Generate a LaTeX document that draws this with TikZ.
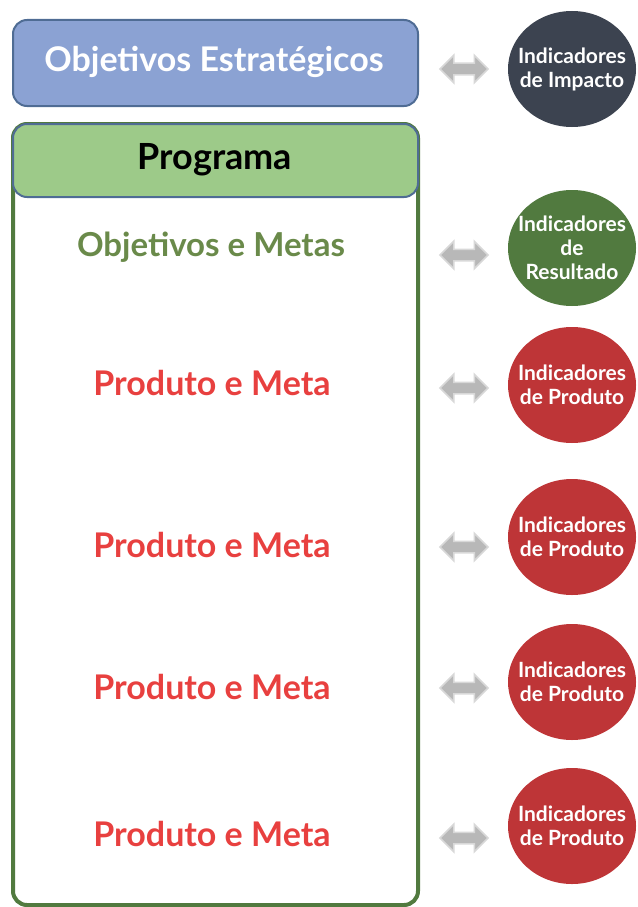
\documentclass[tikz,border=0pt]{standalone}
\usepackage{fontspec}
\setmainfont{Lato}
\usetikzlibrary{shapes.geometric,shapes.arrows}

\definecolor{boxblue}{HTML}{8BA2D3}
\definecolor{edgeblue}{HTML}{4F6C94}
\definecolor{boxgreen}{HTML}{9DCA89}
\definecolor{darkgreen}{HTML}{517A3F}
\definecolor{textgreen}{HTML}{6A8A4A}
\definecolor{slate}{HTML}{3C4350}
\definecolor{wine}{HTML}{BE3537}
\definecolor{textred}{HTML}{E8403F}
\definecolor{arrowgray}{HTML}{B8B8B8}

\begin{document}
\begin{tikzpicture}[x=1pt,y=-1pt,
  indicador/.style={ellipse,minimum width=128pt,minimum height=116pt,inner sep=0pt},
  rotulo/.style={text=white,font=\fontsize{21}{24}\selectfont\bfseries,align=center},
  seta/.style={double arrow,fill=arrowgray,draw=arrowgray!55,line width=1.5pt,
    minimum height=48pt,double arrow head extend=8pt,inner sep=5pt},
  meta/.style={font=\fontsize{34}{38}\selectfont\bfseries,text=textred}]
 \useasboundingbox (0,0) rectangle (637,907);
 % caixas da esquerda
 \draw[darkgreen,line width=4pt,rounded corners=14pt] (13,124) rectangle (418,905);
 \draw[edgeblue,fill=boxblue,line width=2pt,rounded corners=14pt] (13,20) rectangle (418,106);
 \draw[edgeblue,fill=boxgreen,line width=2pt,rounded corners=14pt] (13,124) rectangle (418,197);
 \node[font=\fontsize{34}{38}\selectfont\bfseries,text=white] (objest) at (214,62) {Objetivos Estratégicos};
 \node[font=\fontsize{36}{40}\selectfont\bfseries] (prog) at (215,160) {Programa};
 \node[font=\fontsize{33}{37}\selectfont\bfseries,text=textgreen] (objmet) at (211,247) {Objetivos e Metas};
 \node[meta] (prod1) at (212,383) {Produto e Meta};
 \node[meta] (prod2) at (212,545) {Produto e Meta};
 \node[meta] (prod3) at (212,687) {Produto e Meta};
 \node[meta] (prod4) at (212,834) {Produto e Meta};
 % indicadores
 \node[indicador,fill=slate] (impacto) at (572,69) {};
 \node[indicador,fill=darkgreen] (result) at (572,248) {};
 \node[indicador,fill=wine] (ind1) at (572,385) {};
 \node[indicador,fill=wine] (ind2) at (572,537) {};
 \node[indicador,fill=wine] (ind3) at (572,682) {};
 \node[indicador,fill=wine] (ind4) at (572,826) {};
 \node[rotulo] at (impacto) {Indicadores\\de Impacto};
 \node[rotulo] at (result) {Indicadores\\de\\Resultado};
 \node[rotulo] at (ind1) {Indicadores\\de Produto};
 \node[rotulo] at (ind2) {Indicadores\\de Produto};
 \node[rotulo] at (ind3) {Indicadores\\de Produto};
 \node[rotulo] at (ind4) {Indicadores\\de Produto};
 % setas
 \node[seta] (s0) at (464,69) {};
 \node[seta] (s1) at (464,255) {};
 \node[seta] (s2) at (464,388) {};
 \node[seta] (s3) at (464,547) {};
 \node[seta] (s4) at (464,688) {};
 \node[seta] (s5) at (464,838) {};
\end{tikzpicture}
\end{document}
